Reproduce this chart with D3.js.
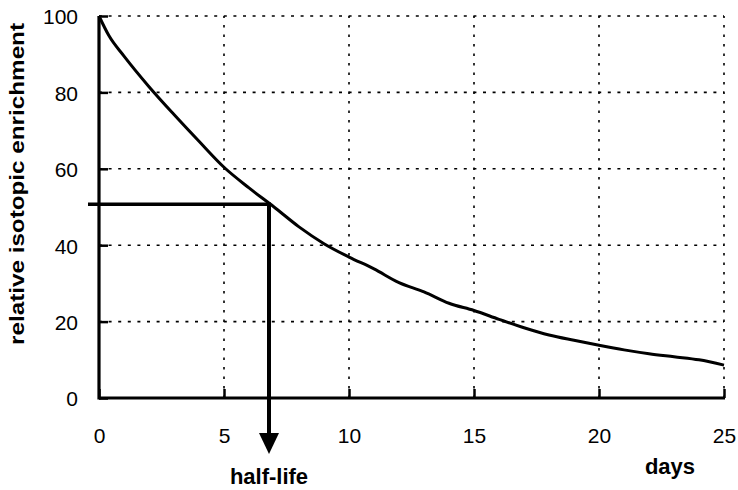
<!DOCTYPE html>
<html>
<head>
<meta charset="utf-8">
<script src="https://cdn.jsdelivr.net/npm/d3@7"></script>
<style>
  html, body { margin: 0; padding: 0; background: #fff; }
  svg { display: block; font-family: "Liberation Sans", Arial, sans-serif; }
</style>
</head>
<body>
<svg id="chart" width="738" height="490"></svg>
<script>
// ---- data ----
const days = [0, 0.4, 1, 2, 3, 4, 5, 6, 7, 8, 9, 10, 11, 12, 13, 14, 15, 16, 17, 18, 19, 20, 21, 22, 23, 24, 25];
const enrichment = [100, 94.8, 89.5, 81.5, 74.2, 67.2, 60.4, 55, 50, 44.8, 40.4, 36.9, 33.8, 30.2, 27.8, 24.8, 22.9, 20.6, 18.4, 16.5, 15.1, 13.8, 12.6, 11.6, 10.8, 10.0, 8.6];
const xTicks = [0, 5, 10, 15, 20, 25];
const yTicks = [0, 20, 40, 60, 80, 100];
const halfLifeDay = [6.8];
const halfLifeLevel = [50.7];
const xTitle = "days";
const yTitle = "relative isotopic enrichment";
const markerLabel = "half-life";

// ---- layout ----
const svg = d3.select("#chart");
const x = d3.scaleLinear().domain([0, 25]).range([99, 724]);
const y = d3.scaleLinear().domain([0, 100]).range([398, 16]);

// grid
const grid = svg.append("g");
grid.selectAll("line.h").data(yTicks.filter(d => d > 0)).join("line")
  .attr("x1", x(0)).attr("x2", x(25))
  .attr("y1", d => y(d)).attr("y2", d => y(d))
  .attr("stroke", "#000").attr("stroke-width", 1.6)
  .attr("stroke-dasharray", "3,6.6");
grid.selectAll("line.v").data(xTicks.filter(d => d > 0)).join("line")
  .attr("y1", y(0)).attr("y2", y(100))
  .attr("x1", d => x(d)).attr("x2", d => x(d))
  .attr("stroke", "#000").attr("stroke-width", 1.6)
  .attr("stroke-dasharray", "2.5,7");

// axes
const xAxis = d3.axisBottom(x).tickValues(xTicks).tickSize(-9).tickPadding(0).tickFormat(d3.format("d"));
const gx = svg.append("g").attr("transform", `translate(0,${y(0)})`).call(xAxis);
gx.select(".domain").remove();
gx.selectAll(".tick line").attr("stroke", "#000").attr("stroke-width", 2.5);
gx.selectAll(".tick text").attr("font-size", 21).attr("fill", "#000")
  .attr("y", 0).attr("dy", 0)
  .attr("transform", "translate(0,45)");

const yAxis = d3.axisLeft(y).tickValues(yTicks).tickSize(-9).tickPadding(0).tickFormat(d3.format("d"));
const gy = svg.append("g").attr("transform", `translate(${x(0)},0)`).call(yAxis);
gy.select(".domain").remove();
gy.selectAll(".tick line").attr("stroke", "#000").attr("stroke-width", 2.5);
gy.selectAll(".tick text").attr("font-size", 21).attr("fill", "#000")
  .attr("x", -21).attr("dy", "0.38em");

// solid axis lines
svg.append("line").attr("x1", x(0)).attr("x2", x(0)).attr("y1", y(0) + 1.5).attr("y2", y(100))
  .attr("stroke", "#000").attr("stroke-width", 3.2);
svg.append("line").attr("x1", x(0)).attr("x2", x(25) + 1).attr("y1", y(0)).attr("y2", y(0))
  .attr("stroke", "#000").attr("stroke-width", 3.2);

// curve
const pts = days.map((d, i) => [d, enrichment[i]]);
svg.append("path").datum(pts)
  .attr("d", d3.line().x(d => x(d[0])).y(d => y(d[1])).curve(d3.curveMonotoneX))
  .attr("fill", "none").attr("stroke", "#000").attr("stroke-width", 3)
  .attr("stroke-linejoin", "round");

// half-life marker
const hx = x(halfLifeDay[0]), hy = y(halfLifeLevel[0]);
svg.append("line").attr("x1", x(0) - 11).attr("x2", hx + 2).attr("y1", hy).attr("y2", hy)
  .attr("stroke", "#000").attr("stroke-width", 3.5);
svg.append("line").attr("x1", hx).attr("x2", hx).attr("y1", hy - 1.5).attr("y2", 436)
  .attr("stroke", "#000").attr("stroke-width", 4);
svg.append("path")
  .attr("d", `M${hx - 10},433 L${hx + 10},433 L${hx},454 Z`)
  .attr("fill", "#000");
svg.append("text").attr("x", hx).attr("y", 484).attr("text-anchor", "middle")
  .attr("font-size", 22).attr("font-weight", "bold").text(markerLabel);

// titles
svg.append("text").attr("x", 670).attr("y", 474).attr("text-anchor", "middle")
  .attr("font-size", 22).attr("font-weight", "bold").text(xTitle);
svg.append("text")
  .attr("transform", "translate(24,184) rotate(-90)")
  .attr("text-anchor", "middle")
  .attr("font-size", 21).attr("font-weight", "bold")
  .attr("textLength", 322).attr("lengthAdjust", "spacingAndGlyphs")
  .text(yTitle);
</script>
</body>
</html>
